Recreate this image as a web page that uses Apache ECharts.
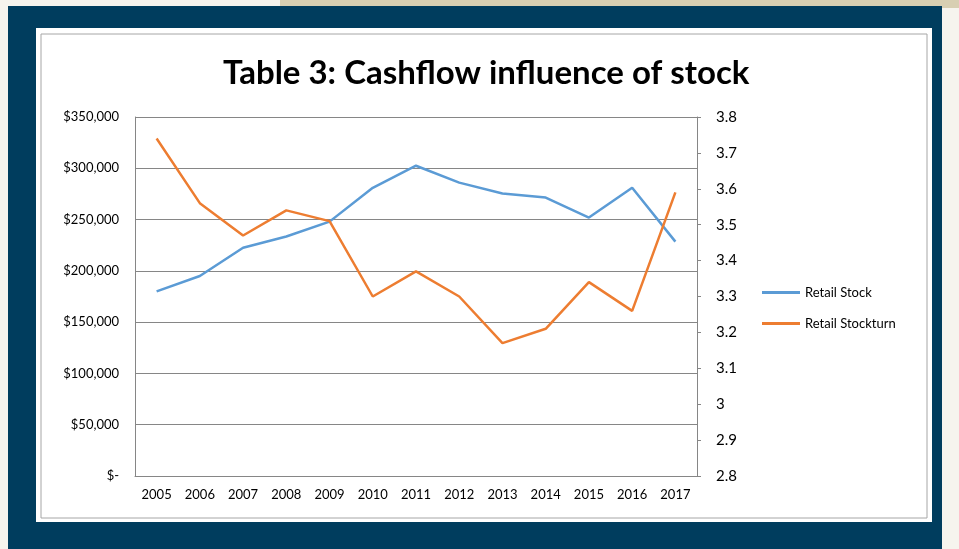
<!DOCTYPE html>
<html><head><meta charset="utf-8">
<script src="https://cdn.jsdelivr.net/npm/echarts@6/dist/echarts.min.js"></script>
<style>html,body{margin:0;padding:0;background:#f6f4ee;}#c{width:959px;height:549px;}</style>
</head><body><div id="c"></div>
<script>
const years = ['2005','2006','2007','2008','2009','2010','2011','2012','2013','2014','2015','2016','2017'];
const retailStock = [180000,195000,222500,233500,248000,281000,302500,286000,275500,271500,252000,281000,228500];
const retailStockturn = [3.74,3.56,3.47,3.54,3.51,3.30,3.37,3.30,3.17,3.21,3.34,3.26,3.59];
const leftTicks = {min:0,max:350000,interval:50000};
const rightTicks = {min:2.8,max:3.8,interval:0.1};

const chart = echarts.init(document.getElementById('c'));
const font = 'Lato, "Open Sans", sans-serif';
chart.setOption({
  animation:false,
  backgroundColor:'#f6f4ee',
  graphic:[
    {type:'rect',shape:{x:280,y:0,width:679,height:8},style:{fill:'#d8cfb2'},z:-10},
    {type:'rect',shape:{x:8,y:6,width:934,height:543},style:{fill:'#003d5e'},z:-9},
    {type:'rect',shape:{x:36,y:28,width:896,height:494},style:{fill:'#ffffff'},z:-8},
    {type:'rect',shape:{x:41,y:34,width:886,height:484},style:{fill:'none',stroke:'#a6a6a6',lineWidth:1},z:-7}
  ],
  title:{text:'Table 3: Cashflow influence of stock',top:57,left:223,padding:0,
    textStyle:{fontFamily:font,fontWeight:'bold',fontSize:33,color:'#000'}},
  legend:{orient:'vertical',left:762,top:286,padding:0,itemGap:18,itemWidth:38,itemHeight:3,icon:'rect',
    textStyle:{fontFamily:font,fontSize:13,color:'#000'},
    data:['Retail Stock','Retail Stockturn']},
  grid:{left:135,right:262,top:117,bottom:73},
  xAxis:{type:'category',data:years,boundaryGap:true,
    axisLine:{lineStyle:{color:'#868686'}},axisTick:{show:false},
    axisLabel:{fontFamily:font,fontSize:13,color:'#000',margin:12}},
  yAxis:[
    {type:'value',min:leftTicks.min,max:leftTicks.max,interval:leftTicks.interval,
      axisLine:{show:true,lineStyle:{color:'#868686'}},axisTick:{show:false},
      splitLine:{lineStyle:{color:'#868686',width:1}},
      axisLabel:{fontFamily:font,fontSize:13,color:'#000',margin:16,
        formatter:v=> v===0?'$-':'$'+v.toLocaleString('en-US')}},
    {type:'value',min:rightTicks.min,max:rightTicks.max,interval:rightTicks.interval,position:'right',
      axisLine:{show:true,lineStyle:{color:'#868686'}},axisTick:{show:true,length:4,lineStyle:{color:'#868686'}},
      splitLine:{show:false},
      axisLabel:{fontFamily:font,fontSize:15,color:'#000',margin:19,
        formatter:v=>String(Math.round(v*10)/10)}}
  ],
  series:[
    {name:'Retail Stock',type:'line',data:retailStock,yAxisIndex:0,symbol:'none',
      lineStyle:{color:'#5b9bd5',width:2.5},itemStyle:{color:'#5b9bd5'}},
    {name:'Retail Stockturn',type:'line',data:retailStockturn,yAxisIndex:1,symbol:'none',
      lineStyle:{color:'#ed7d31',width:2.5},itemStyle:{color:'#ed7d31'}}
  ]
});
</script></body></html>
